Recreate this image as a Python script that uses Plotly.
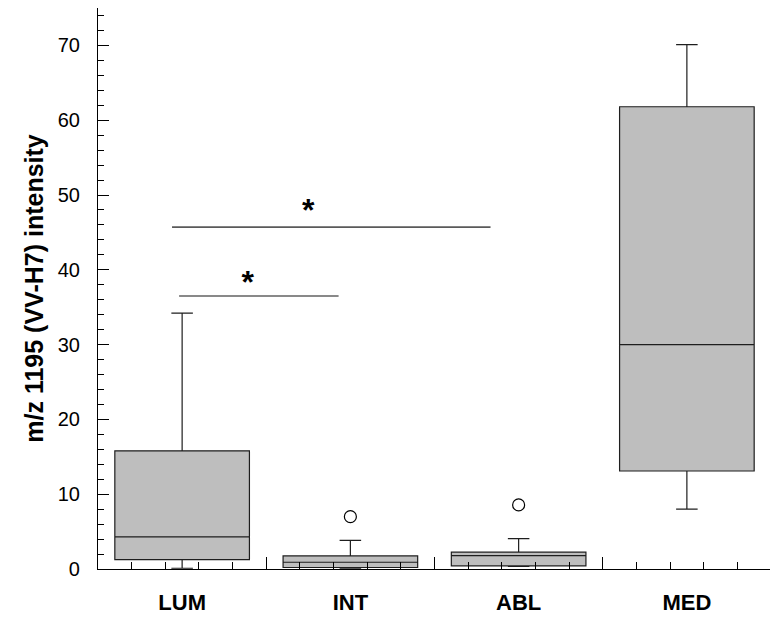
import plotly.graph_objects as go

categories = ["LUM", "INT", "ABL", "MED"]
xpos = [0, 1, 2, 3]
q1 = [1.25, 0.2, 0.42, 13.1]
median = [4.3, 0.9, 1.8, 30.0]
q3 = [15.8, 1.75, 2.25, 61.8]
lowerfence = [0.1, 0.1, 0.35, 8.0]
upperfence = [34.2, 3.84, 4.06, 70.1]

outlier_x = [1, 2]
outlier_y = [7.0, 8.57]

sig_lines = [
    {"x": [-0.018, 0.93], "y": [36.5, 36.5], "color": "rgb(20,20,20)", "width": 1.2},
    {"x": [-0.06, 1.833], "y": [45.7, 45.7], "color": "rgb(90,90,90)", "width": 1.6},
]
star_x = [0.39, 0.75]
star_y = [38.0, 47.6]

FONT = "Liberation Sans, Arial, sans-serif"

fig = go.Figure()
fig.add_trace(go.Box(
    x=xpos, q1=q1, median=median, q3=q3,
    lowerfence=lowerfence, upperfence=upperfence,
    width=0.8, whiskerwidth=0.16,
    fillcolor="rgb(190,190,190)",
    line=dict(color="rgb(30,30,30)", width=1.2),
    boxpoints=False, showlegend=False, hoverinfo="skip",
))
fig.add_trace(go.Scatter(
    x=outlier_x, y=outlier_y, mode="markers",
    marker=dict(symbol="circle-open", size=12, color="black", line=dict(width=1.2)),
    showlegend=False,
))
for ln in sig_lines:
    fig.add_trace(go.Scatter(
        x=ln["x"], y=ln["y"], mode="lines",
        line=dict(color=ln["color"], width=ln["width"]), showlegend=False,
    ))
fig.add_trace(go.Scatter(
    x=star_x, y=star_y, mode="text", text=["*", "*"],
    textfont=dict(family=FONT, size=32, color="black", weight="bold"),
    showlegend=False,
))
# invisible trace on overlay axis for category labels
fig.add_trace(go.Scatter(x=xpos, y=[None] * 4, xaxis="x2", showlegend=False, hoverinfo="skip"))

boundaries = [-0.5, 0.5, 1.5, 2.5, 3.5]
minor_vals = [b + f for b in boundaries[:-1] for f in (0.2, 0.4, 0.6, 0.8)]

fig.update_layout(
    width=770, height=616,
    margin=dict(l=90, r=7, t=0, b=55),
    plot_bgcolor="white", paper_bgcolor="white",
    font=dict(family=FONT, color="black"),
    xaxis=dict(
        range=[-0.5, 3.5], showline=True, linecolor="black", linewidth=1.2,
        tickmode="array", tickvals=boundaries, showticklabels=False,
        ticks="inside", ticklen=12, tickwidth=1, tickcolor="black",
        minor=dict(tickmode="array", tickvals=minor_vals, ticks="inside",
                   ticklen=7, tickwidth=1, tickcolor="black"),
        showgrid=False, zeroline=False, automargin=False,
    ),
    xaxis2=dict(
        overlaying="x", anchor="y", side="bottom", range=[-0.5, 3.5],
        tickmode="array", tickvals=xpos, ticktext=categories,
        ticks="", showline=False, showgrid=False, zeroline=False,
        tickfont=dict(family=FONT, size=22, color="black", weight="bold"),
        ticklabelstandoff=18, automargin=False,
    ),
    yaxis=dict(
        range=[0, 75.0], showline=True, linecolor="black", linewidth=1.2,
        tickmode="linear", tick0=0, dtick=10,
        ticks="inside", ticklen=11, tickwidth=1, tickcolor="black",
        minor=dict(dtick=2, ticks="inside", ticklen=6, tickwidth=1, tickcolor="black"),
        tickfont=dict(family=FONT, size=20, color="black"),
        ticklabelstandoff=13,
        showgrid=False, zeroline=False, automargin=False,
        title=dict(text="m/z 1195 (VV-H7) intensity",
                   font=dict(family=FONT, size=25, color="black", weight="bold"),
                   standoff=6),
    ),
)

fig.write_html("out.html")
